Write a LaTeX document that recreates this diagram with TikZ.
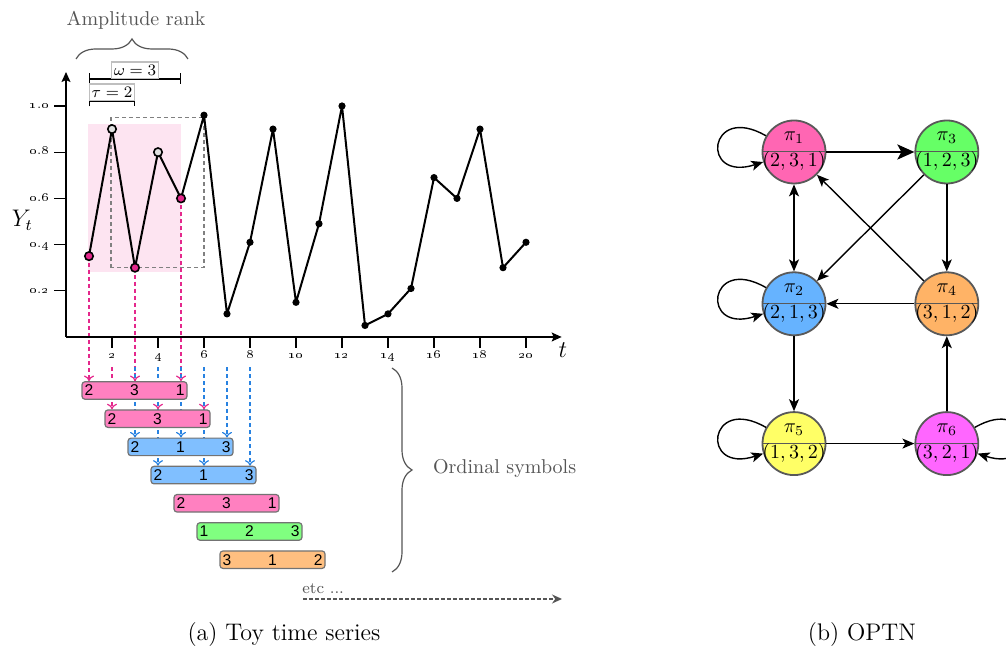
\documentclass[tikz,border=0pt]{standalone}
\usepackage{fontspec}
\newfontfamily\barfont{Liberation Sans}
\usetikzlibrary{arrows.meta, decorations.pathreplacing, positioning}

\pgfdeclarelayer{background}
\pgfsetlayers{background,main}

\definecolor{rankpink}{RGB}{255,128,192}
\definecolor{rankblue}{RGB}{128,191,255}
\definecolor{rankgreen}{RGB}{128,255,128}
\definecolor{rankorange}{RGB}{255,191,128}
\definecolor{windowpink}{RGB}{253,228,241}
\definecolor{droppink}{RGB}{228,40,140}
\definecolor{dropblue}{RGB}{40,130,225}
\definecolor{notegray}{RGB}{85,85,85}
\definecolor{stateone}{RGB}{255,102,179}
\definecolor{statetwo}{RGB}{102,179,255}
\definecolor{statethree}{RGB}{102,255,102}
\definecolor{statefour}{RGB}{255,179,102}
\definecolor{statefive}{RGB}{255,255,102}
\definecolor{statesix}{RGB}{255,102,255}

\newcommand\oldnum[1]{{\fontencoding{TS1}\fontfamily{lmr}\selectfont #1}}
\newcommand\symbols[3]{\makebox[50pt]{#1\hfill #2\hfill #3}}
\newcommand\permlabel[2]{\makebox[0pt]{\raisebox{-1.1pt}[0pt][0pt]{\begin{tabular}{@{}c@{}}$\pi_{#1}$\\[1pt]$(#2)$\end{tabular}}}}

\tikzset{
  axisline/.style={line width=0.6pt, -{Stealth[length=5pt,width=4.5pt,inset=1pt]}},
  axistick/.style={line width=0.6pt},
  ticklabel/.style={font=\fontsize{6}{7}\selectfont, inner sep=0pt},
  series/.style={line width=1pt, line join=round},
  measure/.style={line width=0.6pt, {Bar[width=5.5pt]}-{Bar[width=5.5pt]}},
  measurelabel/.style={draw=black!25, inner xsep=1pt, inner ysep=1.5pt, font=\footnotesize},
  symbolbar/.style={draw=black!55, line width=0.6pt, rounded corners=1.5pt, minimum width=52.5pt,
    minimum height=8.75pt, inner sep=0pt, font=\barfont\fontsize{7.8}{9}\selectfont},
  droparrow/.style={line width=0.6pt, dash pattern=on 2pt off 1.5pt, -{To[length=2.8pt,width=5pt]}},
  note/.style={text=notegray},
  notebrace/.style={draw=notegray, line width=0.6pt, decorate, decoration={brace, amplitude=10pt}},
  permstate/.style={circle, draw=black!65, line width=0.9pt, minimum size=31.5pt, inner sep=0pt,
    path picture={\draw[line width=0.5pt] (path picture bounding box.west) -- (path picture bounding box.east);}},
  statetip/.tip={Stealth[length=6pt,width=5pt,inset=1.5pt]},
  transition/.style={line width=0.7pt, -statetip},
  selfloop/.style={looseness=6.5},
  caption/.style={font=\fontsize{12}{14}\selectfont},
}

\begin{document}
\begin{tikzpicture}[x=0.5pt, y=0.5pt]
\useasboundingbox (0,0) rectangle (1006,651);

% toy time series, t on x and Y_t on y
\begin{scope}[xshift=33pt, yshift=157pt, x=11.5pt, y=115.5pt]
  \begin{pgfonlayer}{background}
    \fill[windowpink] (0.96,0.28) rectangle (5,0.92);
  \end{pgfonlayer}
  \draw[gray, line width=0.6pt, dash pattern=on 2pt off 1.5pt] (1.96,0.3) rectangle (6,0.95);

  \draw[axisline] (0,0) -- (21.55,0);
  \draw[axisline] (0,0) -- (0,1.147);
  \foreach \t in {2,4,...,20} {
    \draw[axistick] (\t,0) -- (\t,-0.048);
    \node[ticklabel, anchor=base] (xt\t) at (\t,-0.094) {\oldnum{\t}};
  }
  \foreach \v/\a/\b in {0.2/0/2, 0.4/0/4, 0.6/0/6, 0.8/0/8, 1.0/1/0} {
    \draw[axistick] (-0.52,\v) -- (0,\v);
    \node[ticklabel, anchor=base east] (yt\a\b) at (-0.74,\v-0.012) {\oldnum{\a}.\oldnum{\b}};
  }
  \node (ylabel) at (-1.9,0.506) {\large $Y_t$};
  \node (tlabel) at (21.6,-0.056) {\large $t$};

  \foreach \t/\v in {1/0.35, 2/0.9, 3/0.3, 4/0.8, 5/0.6, 6/0.96, 7/0.1, 8/0.41, 9/0.9, 10/0.15,
                     11/0.49, 12/1.0, 13/0.05, 14/0.1, 15/0.21, 16/0.69, 17/0.6, 18/0.9, 19/0.3, 20/0.41}
    \coordinate (y\t) at (\t,\v);
  \draw[series] (y1) \foreach \t in {2,...,20} { -- (y\t) };
  \foreach \t in {6,...,20} \fill (y\t) circle (1.8pt);
  \foreach \t in {2,4} \filldraw[fill=black!12, line width=0.8pt] (y\t) circle (2.1pt);
  \foreach \t in {1,3,5} \filldraw[fill=droppink, line width=0.8pt] (y\t) circle (2.1pt);

  \draw[measure] (1,1.117) -- node[measurelabel, above] (omega) {$\omega = 3$} (5,1.117);
  \draw[measure] (1,1.022) -- node[measurelabel, above] (tau) {$\tau = 2$} (3,1.022);

  \foreach \t in {2,...,8} \coordinate (drop\t) at (\t,-0.13);
\end{scope}

\draw[notebrace] (76,592) -- (188,592);
\node[note] (amprank) at (136,631) {Amplitude rank};

% ordinal symbols of the sliding windows
\foreach \x/\y/\col/\a/\b/\c [count=\n] in {134.5/260.5/rankpink/2/3/1, 157.5/232.3/rankpink/2/3/1,
    180.5/204.1/rankblue/2/1/3, 203.5/175.9/rankblue/2/1/3, 226.5/147.7/rankpink/2/3/1,
    249.5/119.5/rankgreen/1/2/3, 272.5/91.3/rankorange/3/1/2}
  \node[symbolbar, fill=\col] (bar\n) at (\x,\y) {\symbols{\a}{\b}{\c}};

\begin{pgfonlayer}{background}
  \foreach \t in {1,3,5} \draw[droparrow, droppink] (y\t) -- (y\t |- bar1.north);
  \foreach \t in {2,4,6} \draw[droparrow, droppink] (drop\t) -- (drop\t |- bar2.north);
  \foreach \t in {3,5,7} \draw[droparrow, dropblue] (drop\t) -- (drop\t |- bar3.north);
  \foreach \t in {4,6,8} \draw[droparrow, dropblue] (drop\t) -- (drop\t |- bar4.north);
\end{pgfonlayer}

\draw[notebrace] (392,283) -- (392,79);
\node[note, anchor=west] (ordsym) at (426,182) {Ordinal symbols};

\coordinate (etcstart) at (303,52);
\coordinate (etcend) at (562,52);
\node[note, anchor=base west, inner sep=0pt, font=\footnotesize] (etc) at (302,57) {etc ...};
\draw[notegray, line width=0.6pt, dash pattern=on 2pt off 1pt, -{Stealth[length=5pt,width=4.5pt]}] (etcstart) -- (etcend);

% ordinal pattern transition network
\node[permstate, fill=stateone] (p1) at (794,499) {\permlabel{1}{2,3,1}};
\node[permstate, fill=statethree, right=44pt of p1] (p3) {\permlabel{3}{1,2,3}};
\node[permstate, fill=statetwo, below=43.5pt of p1] (p2) {\permlabel{2}{2,1,3}};
\node[permstate, fill=statefour, below=43.5pt of p3] (p4) {\permlabel{4}{3,1,2}};
\node[permstate, fill=statefive, below=37.5pt of p2] (p5) {\permlabel{5}{1,3,2}};
\node[permstate, fill=statesix, below=37.5pt of p4] (p6) {\permlabel{6}{3,2,1}};

\draw[transition, line width=1.3pt, -{Stealth[length=8.5pt,width=7.5pt,inset=2pt]}] (p1) -- (p3);
\draw[transition, statetip-statetip] (p1) -- (p2);
\draw[transition] (p3) -- (p2);
\draw[transition] (p4) -- (p1);
\draw[transition] (p3) -- (p4);
\draw[transition] (p4) -- (p2);
\draw[transition] (p2) -- (p5);
\draw[transition] (p5) -- (p6);
\draw[transition] (p6) -- (p4);
\draw[transition] (p1) to[selfloop, out=150, in=198] (p1);
\draw[transition] (p2) to[selfloop, out=150, in=198] (p2);
\draw[transition] (p5) to[selfloop, out=150, in=198] (p5);
\draw[transition] (p6) to[selfloop, out=30, in=342] (p6);

\node[caption] (capa) at (284,16) {(a) Toy time series};
\node[caption] (capb) at (862,16) {(b) OPTN};
\end{tikzpicture}
\end{document}
